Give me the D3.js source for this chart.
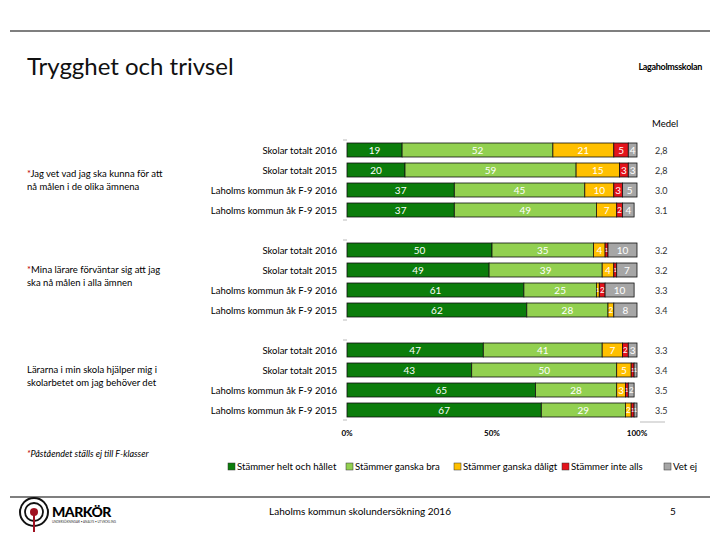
<!DOCTYPE html>
<html><head><meta charset="utf-8">
<script src="https://cdn.jsdelivr.net/npm/d3@7/dist/d3.min.js"></script>
<style>body{margin:0;background:#fff}svg{display:block}text{font-family:Lato,"Open Sans",sans-serif}</style>
</head><body><svg id="c" width="720" height="540"></svg>
<script>
const rowLabels = ["Skolar totalt 2016","Skolar totalt 2015","Laholms kommun åk F-9 2016","Laholms kommun åk F-9 2015"];
const questions = [
  {star:true, lines:["Jag vet vad jag ska kunna för att","nå målen i de olika ämnena"]},
  {star:true, lines:["Mina lärare förväntar sig att jag","ska nå målen i alla ämnen"]},
  {star:false, lines:["Lärarna i min skola hjälper mig i","skolarbetet om jag behöver det"]}
];
const seriesNames = ["Stämmer helt och hållet","Stämmer ganska bra","Stämmer ganska dåligt","Stämmer inte alls","Vet ej"];
const seriesColors = ["#0b7d0b","#92d050","#ffc000","#e3141c","#a6a6a6"];
const helt    = [19,20,37,37, 50,49,61,62, 47,43,65,67];
const ganska  = [52,59,45,49, 35,39,25,28, 41,50,28,29];
const daligt  = [21,15,10,7,  4,4,1,2,    7,5,3,2];
const inte    = [5,3,3,2,     1,1,2,0,    2,1,1,1];
const vetej   = [4,3,5,4,     10,7,10,8,  3,1,2,1];
const medel   = ["2,8","2,8","3.0","3.1","3.2","3.2","3.3","3.4","3.3","3.4","3.5","3.5"];
const xTicks = [0,50,100];

const svg = d3.select("#c");
const values = [helt,ganska,daligt,inte,vetej];

const keys = [];
const rows = [];
questions.forEach((q,gi)=>{
  if(gi>0) keys.push("gap"+gi);
  rowLabels.forEach((r,ri)=>{
    const k = gi+"-"+ri; keys.push(k);
    const idx = gi*4+ri;
    rows.push({key:k, label:r, idx, vals:values.map(v=>v[idx]), medel:medel[idx]});
  });
});

const x = d3.scaleLinear().domain([0,100]).range([347,637]);
const y = d3.scaleBand().domain(keys).range([140,420]).paddingInner(0.3).paddingOuter(0.15);

svg.append("line").attr("x1",10).attr("x2",710).attr("y1",31).attr("y2",31).attr("stroke","#000").attr("stroke-width",1.2);
svg.append("text").attr("x",27).attr("y",75).attr("font-size",24).attr("fill","#111").text("Trygghet och trivsel");
svg.append("text").attr("x",702).attr("y",70).attr("text-anchor","end").attr("font-size",9).attr("font-weight","bold").attr("letter-spacing","-0.3").text("Lagaholmsskolan");
svg.append("text").attr("x",652).attr("y",127).attr("font-size",9.5).text("Medel");

const stack = d3.stack().keys(d3.range(5)).value((d,k)=>d.vals[k]);
const st = stack(rows);
st.forEach((layer,si)=>{
  const g = svg.append("g");
  layer.forEach((seg,ri)=>{
    const r = rows[ri];
    const v = r.vals[si];
    if(v<=0) return;
    const x0 = x(seg[0]), x1 = x(Math.min(seg[1],100));
    g.append("rect").attr("x",x0).attr("y",y(r.key)).attr("width",Math.max(0,x1-x0)).attr("height",y.bandwidth())
      .attr("fill",seriesColors[si]).attr("stroke","#111").attr("stroke-width",0.8);
    const w = x1-x0;
    const fs = w < 4 ? 6 : (w < 7 ? 8 : 10);
    g.append("text").attr("x",(x0+x1)/2).attr("y",y(r.key)+y.bandwidth()/2+fs*0.35).attr("text-anchor","middle")
      .attr("font-size",fs).attr("fill","#fff").text(v);
  });
});

rows.forEach(r=>{
  svg.append("text").attr("x",337).attr("y",y(r.key)+y.bandwidth()/2+3.5).attr("text-anchor","end")
    .attr("font-size",9.5).attr("fill","#000").text(r.label);
  svg.append("text").attr("x",655).attr("y",y(r.key)+y.bandwidth()/2+3.5)
    .attr("font-size",9).attr("fill","#333").text(r.medel);
});

[0,1,2].forEach(gi=>{
  const first = y(gi+"-0"), last = y(gi+"-3")+y.bandwidth();
  [first-3,last+3].forEach(ty=>svg.append("line").attr("x1",343).attr("x2",347).attr("y1",ty).attr("y2",ty).attr("stroke","#bbb"));
});

xTicks.forEach(t=>{
  svg.append("text").attr("x",x(t)).attr("y",436).attr("text-anchor","middle").attr("font-size",8).attr("font-weight","bold").text(t+"%");
});
svg.append("line").attr("x1",640).attr("x2",665).attr("y1",422).attr("y2",422).attr("stroke","#bbb");

const qy = [177,273,373];
questions.forEach((q,i)=>{
  const t = svg.append("text").attr("x",27).attr("y",qy[i]).attr("font-size",9.5);
  if(q.star) t.append("tspan").attr("fill","#c00000").text("*");
  t.append("tspan").text(q.lines[0]);
  svg.append("text").attr("x",27).attr("y",qy[i]+13).attr("font-size",9.5).text(q.lines[1]);
});

const fn = svg.append("text").attr("x",27).attr("y",457).attr("font-size",9).attr("font-style","italic");
fn.append("tspan").attr("fill","#c00000").text("*");
fn.append("tspan").text("Påståendet ställs ej till F-klasser");

const legX = [228,346,454,562,664];
seriesNames.forEach((n,i)=>{
  svg.append("rect").attr("x",legX[i]).attr("y",463).attr("width",7).attr("height",7).attr("fill",seriesColors[i]).attr("stroke","#333").attr("stroke-width",0.5);
  svg.append("text").attr("x",legX[i]+9).attr("y",470).attr("font-size",9.6).text(n);
});

svg.append("line").attr("x1",10).attr("x2",710).attr("y1",497).attr("y2",497).attr("stroke","#000").attr("stroke-width",1.2);
svg.append("text").attr("x",360).attr("y",515).attr("text-anchor","middle").attr("font-size",10).text("Laholms kommun skolundersökning 2016");
svg.append("text").attr("x",673).attr("y",515).attr("text-anchor","middle").attr("font-size",10).text("5");

const lg = svg.append("g");
lg.append("circle").attr("cx",34).attr("cy",512).attr("r",14).attr("fill","none").attr("stroke","#111").attr("stroke-width",2);
lg.append("circle").attr("cx",34).attr("cy",512).attr("r",9).attr("fill","none").attr("stroke","#111").attr("stroke-width",1.8);
lg.append("circle").attr("cx",34).attr("cy",512).attr("r",4).attr("fill","#a01020");
lg.append("line").attr("x1",34).attr("x2",34).attr("y1",515).attr("y2",532).attr("stroke","#a01020").attr("stroke-width",2);
lg.append("text").attr("x",52).attr("y",517).attr("font-size",14).attr("font-weight","900").attr("letter-spacing","-0.5").text("MARKÖR");
lg.append("text").attr("x",52).attr("y",523).attr("font-size",3).attr("fill","#333").text("UNDERSÖKNINGAR • ANALYS • UTVECKLING");
</script></body></html>
